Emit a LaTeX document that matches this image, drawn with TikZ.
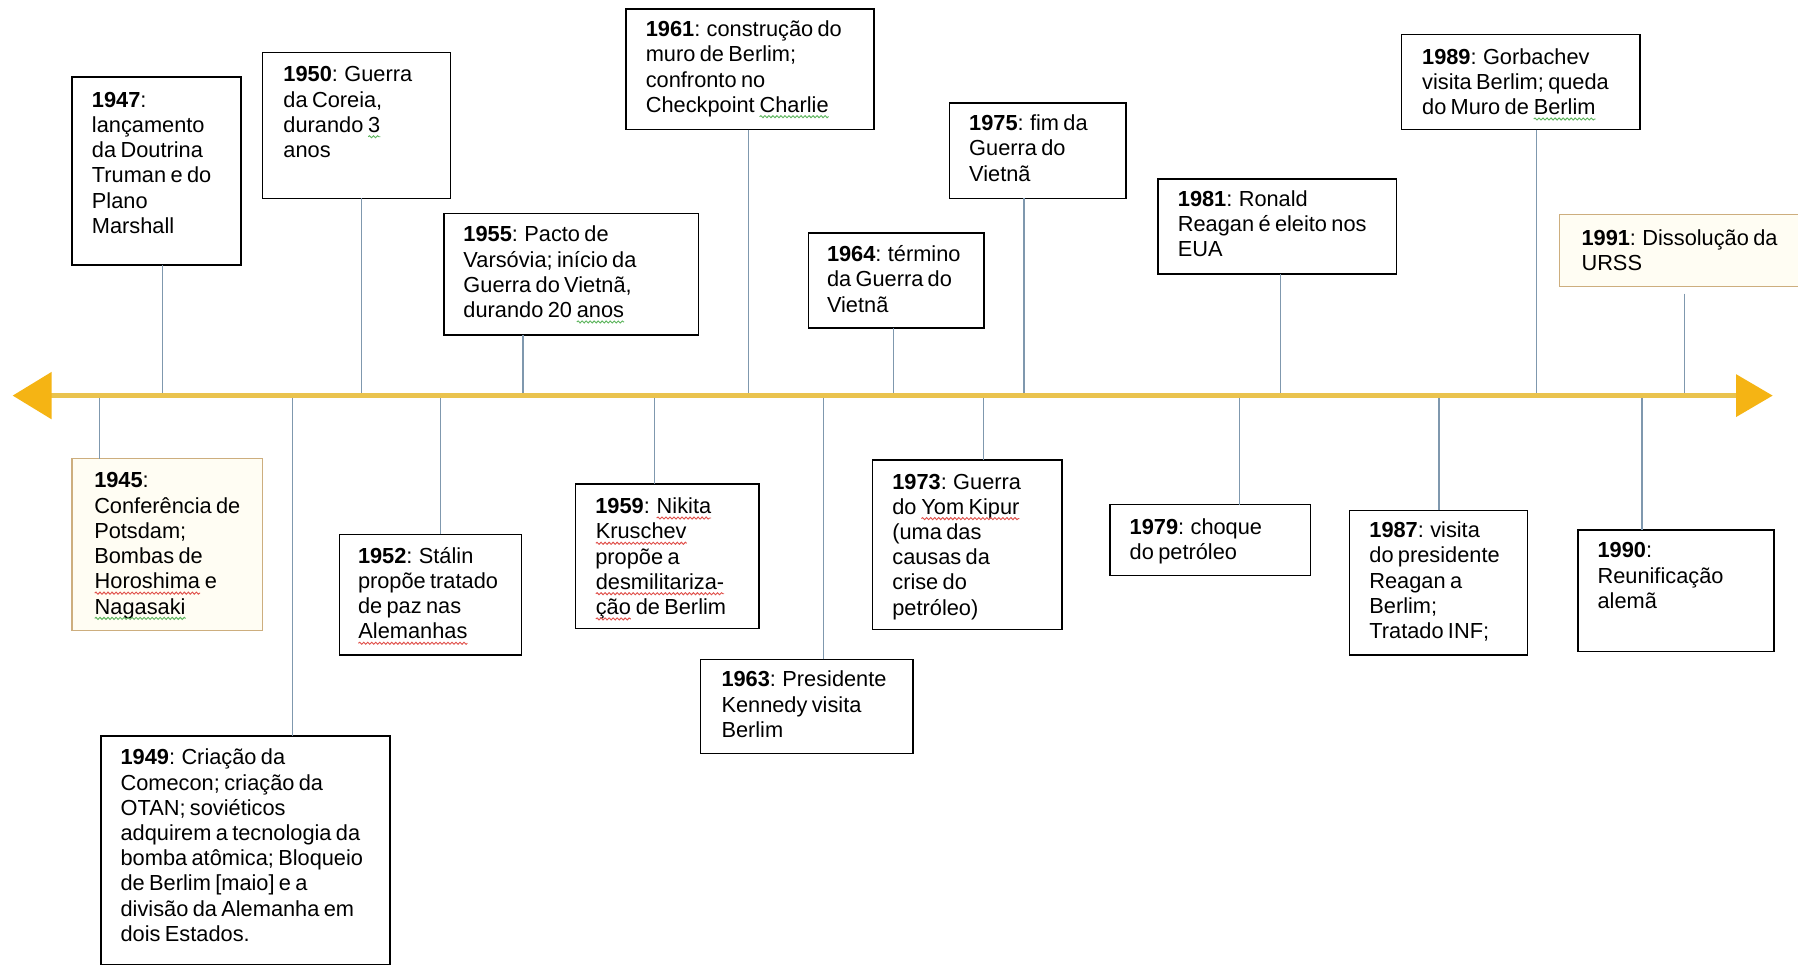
\documentclass[tikz,border=0pt]{standalone}
\usepackage{fontspec}
\setmainfont{Liberation Sans}[WordSpace=0.72]
\usetikzlibrary{arrows.meta,decorations.pathmorphing}
\definecolor{tlc}{HTML}{EAC34E}
\definecolor{headc}{HTML}{F5B414}
\definecolor{connc}{HTML}{7F98AE}
\definecolor{tanc}{HTML}{CDAE7E}
\definecolor{creamc}{HTML}{FFFDF3}
\definecolor{spellred}{HTML}{E0504A}
\definecolor{spellgreen}{HTML}{5DB55D}
\newcommand\yr[1]{\textbf{#1}}
\newcommand\wav[2]{\tikz[baseline=(w.base)]{\node[inner sep=0pt,outer sep=0pt] (w) {#2};
  \draw[#1, line width=0.8pt, decorate, decoration={snake,amplitude=0.9pt,segment length=3.5pt}] ([yshift=-3.8pt]w.base west) -- ([yshift=-3.8pt]w.base east);}}
\newcommand\wavr[1]{\wav{spellred}{#1}}
\newcommand\wavg[1]{\wav{spellgreen}{#1}}
\tikzset{
  evbox/.style={draw=black, line width=1.3pt, fill=white, inner sep=0pt, outer sep=0pt, anchor=north west},
  tanbox/.style={evbox, draw=tanc, fill=creamc},
  evtxt/.style={anchor=north west, inner sep=0pt, align=left, font=\fontsize{19}{22}\selectfont},
  conn/.style={draw=connc, line width=1.1pt},
  tline/.style={draw=tlc, line width=5pt,
    {Triangle[length=34pt,width=40pt,color=headc,fill=headc]}-{Triangle[length=32pt,width=36pt,color=headc,fill=headc]}}
}
\begin{document}
\begin{tikzpicture}[x=1pt,y=-1pt]
\useasboundingbox (0,0) rectangle (1568,842);
\clip (0,0) rectangle (1568,842);
\fill[white] (0,0) rectangle (1568,842);
% timeline coordinates
\coordinate (tlL) at (11,345);
\coordinate (tlR) at (1546,345);
\foreach \n/\x in {45/87,47/142,49/255,50/315,52/384,55/456,59/571,61/653,63/718,64/779,73/858,75/893,79/1081,81/1117,87/1255,89/1340,90/1432,91/1469}
  \coordinate (t\n) at (\x,345);
% upper boxes
\node[evbox, minimum width=147pt, minimum height=164pt] (b47) at (63,67) {};
\node[evtxt] (x47) at (80,80) {\yr{1947}:\\lançamento\\da Doutrina\\Truman e do\\Plano\\Marshall};
\node[evbox, minimum width=164pt, minimum height=127pt] (b50) at (229,46) {};
\node[evtxt] (x50) at (247,58) {\yr{1950}: Guerra\\da Coreia,\\durando \wavg{3}\\anos};
\node[evbox, minimum width=222pt, minimum height=106pt] (b55) at (387,186) {};
\node[evtxt] (x55) at (404,197) {\yr{1955}: Pacto de\\Varsóvia; início da\\Guerra do Vietnã,\\durando 20 \wavg{anos}};
\node[evbox, minimum width=216pt, minimum height=105pt] (b61) at (546,8) {};
\node[evtxt] (x61) at (563,18) {\yr{1961}: construção do\\muro de Berlim;\\confronto no\\Checkpoint \wavg{Charlie}};
\node[evbox, minimum width=153pt, minimum height=83pt] (b64) at (705,203) {};
\node[evtxt] (x64) at (721,214) {\yr{1964}: término\\da Guerra do\\Vietnã};
\node[evbox, minimum width=154pt, minimum height=83pt] (b75) at (828,90) {};
\node[evtxt] (x75) at (845,100) {\yr{1975}: fim da\\Guerra do\\Vietnã};
\node[evbox, minimum width=208pt, minimum height=83pt] (b81) at (1010,156) {};
\node[evtxt] (x81) at (1027,166) {\yr{1981}: Ronald\\Reagan é eleito nos\\EUA};
\node[evbox, minimum width=208pt, minimum height=83pt] (b89) at (1222,30) {};
\node[evtxt] (x89) at (1240,42) {\yr{1989}: Gorbachev\\visita Berlim; queda\\do Muro de \wavg{Berlim}};
\node[tanbox, minimum width=215pt, minimum height=63pt] (b91) at (1360,187) {};
\node[evtxt] (x91) at (1379,200) {\yr{1991}: Dissolução da\\URSS};
% lower boxes
\node[tanbox, minimum width=166pt, minimum height=150pt] (b45) at (63,400) {};
\node[evtxt] (x45) at (82,412) {\yr{1945}:\\Conferência de\\Potsdam;\\Bombas de\\\wavr{Horoshima} e\\\wavg{Nagasaki}};
\node[evbox, minimum width=252pt, minimum height=199pt] (b49) at (88,642) {};
\node[evtxt] (x49) at (105,653) {\yr{1949}: Criação da\\Comecon; criação da\\OTAN; soviéticos\\adquirem a tecnologia da\\bomba atômica; Bloqueio\\de Berlim [maio] e a\\divisão da Alemanha em\\dois Estados.};
\node[evbox, minimum width=159pt, minimum height=105pt] (b52) at (296,466) {};
\node[evtxt] (x52) at (312,477) {\yr{1952}: Stálin\\propõe tratado\\de paz nas\\\wavr{Alemanhas}};
\node[evbox, minimum width=160pt, minimum height=126pt] (b59) at (502,422) {};
\node[evtxt] (x59) at (519,434) {\yr{1959}: \wavr{Nikita}\\\wavr{Kruschev}\\propõe a\\\wavr{desmilitariza-}\\\wavr{ção} de Berlim};
\node[evbox, minimum width=185pt, minimum height=82pt] (b63) at (611,575) {};
\node[evtxt] (x63) at (629,585) {\yr{1963}: Presidente\\Kennedy visita\\Berlim};
\node[evbox, minimum width=165pt, minimum height=148pt] (b73) at (761,401) {};
\node[evtxt] (x73) at (778,413) {\yr{1973}: Guerra\\do \wavr{Yom Kipur}\\(uma das\\causas da\\crise do\\petróleo)};
\node[evbox, minimum width=175pt, minimum height=62pt] (b79) at (968,440) {};
\node[evtxt] (x79) at (985,452) {\yr{1979}: choque\\do petróleo};
\node[evbox, minimum width=155pt, minimum height=126pt] (b87) at (1177,445) {};
\node[evtxt] (x87) at (1194,455) {\yr{1987}: visita\\do presidente\\Reagan a\\Berlim;\\Tratado INF;};
\node[evbox, minimum width=171pt, minimum height=106pt] (b90) at (1376,462) {};
\node[evtxt] (x90) at (1393,473) {\yr{1990}:\\Reunificação\\alemã};
% connectors
\foreach \n in {47,50,55,61,64,75,81,89}
  \draw[conn] (b\n.south -| t\n) -- (t\n);
\draw[conn] ([yshift=-6pt]b91.south -| t91) -- (t91);
\foreach \n in {45,49,52,59,63,73,79,87,90}
  \draw[conn] (b\n.north -| t\n) -- (t\n);
% timeline
\draw[tline] (tlL) -- (tlR);
\end{tikzpicture}
\end{document}
